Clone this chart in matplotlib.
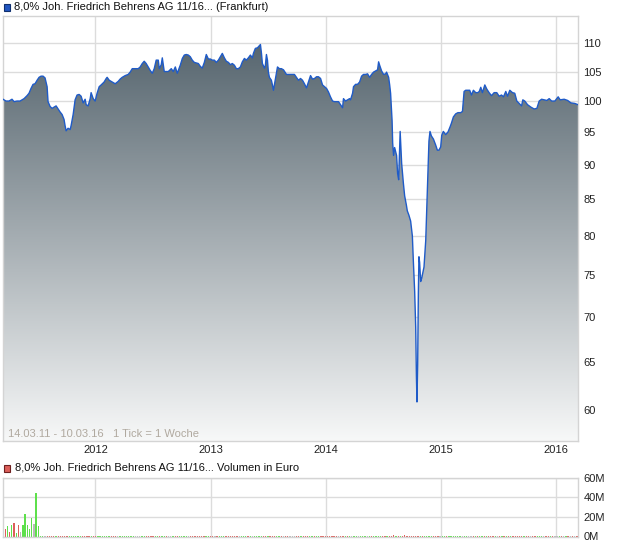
import numpy as np
import matplotlib
matplotlib.use('Agg')
import matplotlib.pyplot as plt
from matplotlib.patches import Rectangle
from matplotlib.colors import LinearSegmentedColormap

plt.rcParams['font.family'] = ['Liberation Sans', 'DejaVu Sans']

TITLE = '8,0% Joh. Friedrich Behrens AG 11/16... (Frankfurt)'
VOL_TITLE = '8,0% Joh. Friedrich Behrens AG 11/16... Volumen in Euro'
RANGE_NOTE = '14.03.11 - 10.03.16   1 Tick = 1 Woche'

# time axis in decimal years (14.03.11 .. 10.03.16)
START, END = 2011.197, 2016.189
YEAR_TICKS = [2012, 2013, 2014, 2015, 2016]
PRICE_TICKS = [60, 65, 70, 75, 80, 85, 90, 95, 100, 105, 110]
PRICE_LIM = (57.0, 115.1)
VOL_TICKS = [0, 20, 40, 60]
VOL_TICK_LABELS = ['0M', '20M', '40M', '60M']

# price (decimal year, price)
price_t = [
    2011.197, 2011.223, 2011.249, 2011.275, 2011.293, 2011.319, 2011.345, 2011.362,
    2011.380, 2011.406, 2011.423, 2011.440, 2011.458, 2011.475, 2011.493, 2011.510,
    2011.527, 2011.545, 2011.562, 2011.580, 2011.588, 2011.606, 2011.623, 2011.640,
    2011.658, 2011.675, 2011.693, 2011.710, 2011.727, 2011.736, 2011.745, 2011.762,
    2011.780, 2011.788, 2011.806, 2011.823, 2011.840, 2011.858, 2011.875, 2011.893,
    2011.910, 2011.919, 2011.936, 2011.954, 2011.962, 2011.980, 2011.997,
    2012.014, 2012.032, 2012.049, 2012.075, 2012.093, 2012.101, 2012.119, 2012.145,
    2012.171, 2012.197, 2012.214, 2012.232, 2012.258, 2012.284, 2012.301, 2012.319,
    2012.345, 2012.371, 2012.388, 2012.406, 2012.423, 2012.440, 2012.458, 2012.475,
    2012.493, 2012.510, 2012.527, 2012.545, 2012.554, 2012.571, 2012.580, 2012.597,
    2012.614, 2012.632, 2012.658, 2012.675, 2012.693, 2012.710, 2012.719, 2012.736,
    2012.754, 2012.771, 2012.788, 2012.806, 2012.823, 2012.840, 2012.858, 2012.875,
    2012.893, 2012.910, 2012.927, 2012.945, 2012.962, 2012.980, 2012.997,
    2013.014, 2013.032, 2013.049, 2013.067, 2013.084, 2013.101, 2013.119, 2013.136,
    2013.154, 2013.171, 2013.188, 2013.206, 2013.223, 2013.240, 2013.258, 2013.275,
    2013.293, 2013.310, 2013.327, 2013.345, 2013.362, 2013.371, 2013.388, 2013.406,
    2013.423, 2013.432, 2013.441, 2013.449, 2013.467, 2013.475, 2013.484, 2013.493,
    2013.501, 2013.510, 2013.527, 2013.536, 2013.545, 2013.554, 2013.571, 2013.580,
    2013.597, 2013.614, 2013.632, 2013.658, 2013.693, 2013.727, 2013.745, 2013.762,
    2013.780, 2013.797, 2013.814, 2013.832, 2013.849, 2013.867, 2013.884, 2013.901,
    2013.919, 2013.936, 2013.954, 2013.971, 2013.988,
    2014.006, 2014.023, 2014.040, 2014.058, 2014.075, 2014.093, 2014.110, 2014.127,
    2014.145, 2014.153, 2014.171, 2014.188, 2014.206, 2014.214, 2014.232, 2014.240,
    2014.258, 2014.275, 2014.293, 2014.310, 2014.327, 2014.345, 2014.362, 2014.380,
    2014.397, 2014.414, 2014.432, 2014.449, 2014.458, 2014.467, 2014.484, 2014.501,
    2014.519, 2014.527, 2014.545, 2014.554, 2014.562, 2014.571, 2014.575, 2014.580,
    2014.588, 2014.597, 2014.614, 2014.623, 2014.632, 2014.645, 2014.658, 2014.673,
    2014.684, 2014.699, 2014.707, 2014.721, 2014.736, 2014.751, 2014.760, 2014.771,
    2014.780, 2014.786, 2014.791, 2014.797, 2014.803, 2014.808, 2014.814, 2014.823,
    2014.832, 2014.843, 2014.852, 2014.867, 2014.881, 2014.890, 2014.895, 2014.904,
    2014.916, 2014.934, 2014.953, 2014.968, 2014.982, 2014.997,
    2015.006, 2015.020, 2015.040, 2015.060, 2015.078, 2015.090, 2015.107, 2015.127,
    2015.147, 2015.171, 2015.186, 2015.200, 2015.214, 2015.232, 2015.249, 2015.264,
    2015.281, 2015.301, 2015.319, 2015.332, 2015.345, 2015.359, 2015.380, 2015.397,
    2015.417, 2015.438, 2015.461, 2015.484, 2015.504, 2015.525, 2015.542, 2015.562,
    2015.577, 2015.597, 2015.620, 2015.640, 2015.658, 2015.678, 2015.699, 2015.710,
    2015.727, 2015.751, 2015.780, 2015.808, 2015.832, 2015.852, 2015.873, 2015.895,
    2015.919, 2015.939, 2015.960, 2015.988,
    2016.017, 2016.034, 2016.069, 2016.099, 2016.127, 2016.162, 2016.189,
]
price_v = [
    100.3, 100.0, 100.0, 100.3, 99.9, 100.0, 100.0, 100.2,
    100.4, 100.9, 101.3, 102.1, 102.8, 102.9, 103.5, 104.0,
    104.2, 104.2, 103.9, 102.4, 99.9, 99.1, 98.8, 99.0,
    99.2, 98.7, 98.2, 97.8, 97.0, 96.0, 95.2, 95.6,
    95.4, 96.0, 97.8, 100.2, 101.0, 101.1, 100.8, 99.7,
    100.3, 99.4, 99.2, 100.4, 101.4, 100.4, 100.0,
    101.3, 102.4, 102.7, 103.2, 103.8, 104.0, 103.5, 103.2,
    102.9, 103.3, 103.7, 104.0, 104.3, 104.5, 104.9, 105.5,
    105.5, 105.5, 105.8, 106.4, 106.8, 106.4, 105.8, 105.2,
    104.7, 105.5, 107.0, 107.0, 105.5, 106.2, 107.4, 105.0,
    105.0, 105.0, 105.5, 105.0, 105.8, 104.7, 105.2, 106.1,
    107.3, 107.9, 108.0, 107.9, 107.6, 107.0, 106.6, 106.5,
    106.4, 105.9, 105.6, 106.6, 108.0, 107.2, 107.2,
    107.0, 107.0, 106.6, 107.0, 107.6, 108.2, 107.4, 106.8,
    106.6, 106.2, 106.4, 106.1, 105.5, 105.5, 105.8, 106.7,
    107.3, 107.0, 107.4, 107.9, 107.4, 108.2, 109.1, 109.2,
    109.6, 109.8, 108.2, 106.4, 105.6, 106.1, 108.0, 107.0,
    104.9, 104.0, 103.5, 102.7, 101.8, 102.8, 104.7, 105.8,
    105.5, 105.5, 105.3, 104.5, 104.5, 104.5, 104.0, 103.5,
    103.8, 103.5, 102.9, 102.2, 103.2, 104.3, 103.7, 103.8,
    104.1, 104.1, 103.8, 102.7, 102.4,
    102.1, 101.5, 100.7, 100.0, 99.9, 99.9, 99.9, 99.4,
    98.9, 100.4, 100.0, 100.2, 100.4, 100.2, 101.3, 102.4,
    102.8, 102.8, 103.2, 104.2, 104.5, 104.5, 104.6, 104.0,
    104.5, 104.9, 105.1, 105.3, 106.7, 106.1, 105.1, 104.5,
    104.6, 104.9, 104.0, 102.7, 101.3, 98.0, 96.8, 93.3,
    91.4, 92.6, 91.4, 88.7, 87.8, 95.1, 90.2, 87.3,
    85.5, 84.2, 83.4, 82.8, 82.0, 80.0, 76.6, 73.0,
    68.8, 63.5, 60.8, 64.7, 72.8, 77.3, 76.6, 74.2,
    74.6, 75.4, 76.0, 79.4, 86.0, 90.7, 93.6, 95.1,
    94.4, 93.9, 93.0, 92.2, 92.2, 92.7,
    94.5, 95.1, 94.6, 95.0, 95.8, 96.4, 97.4, 97.9,
    98.1, 98.1, 98.3, 101.6, 101.8, 101.8, 101.8, 101.0,
    101.8, 101.4, 101.4, 101.6, 102.3, 101.4, 102.7, 102.0,
    101.4, 100.9, 101.4, 101.4, 100.8, 101.0, 100.7, 101.6,
    100.8, 101.8, 101.4, 101.3, 100.0, 99.6, 99.2, 100.2,
    100.0, 99.4, 99.0, 98.7, 98.8, 100.0, 100.3, 100.2,
    100.1, 100.4, 100.0, 100.0,
    100.7, 100.2, 100.3, 100.1, 99.7, 99.6, 99.4,
]

# weekly volume in million euro
N_WEEKS = 261
vol_early = [35.0, 7.8, 10.9, 4.8, 11.9, 13.6, 4.0, 11.9, 5.0, 11.9, 23.4, 11.9, 7.8, 19.3, 13.2, 44.7, 11.2]
vol_early_dir = ['n', 'd', 'u', 'd', 'u', 'd', 'u', 'd', 'n', 'u', 'u', 'u', 'u', 'u', 'n', 'u', 'u']
vol_floor = 0.8
vol_spike_weeks = [177, 182]
vol_spike_vals = [1.8, 1.1]

DIR_COLORS = {'u': '#5ee04c', 'd': '#dc5f5a', 'n': '#b9b9b9'}
GRID = '#dcdcdc'
FS = 8

price_t = np.array(price_t)
price_v = np.array(price_v)

fig = plt.figure(figsize=(6.2, 5.46), dpi=100)
ax = fig.add_axes([3 / 620, 1 - 441 / 546, 575 / 620, 425 / 546])
axv = fig.add_axes([3 / 620, 1 - 536.5 / 546, 575 / 620, 58.8 / 546])

# --- price panel
ax.set_yscale('log')
ax.set_xlim(START, END)
ax.set_ylim(*PRICE_LIM)
ax.set_axisbelow(True)
ax.grid(True, color=GRID, lw=1)

fill = ax.fill_between(price_t, price_v, 1, color='none', lw=0)
cmap = LinearSegmentedColormap.from_list('g', ['#f7f8f8', '#4c5c66'])
grad = np.linspace(0, 1, 256).reshape(-1, 1)
img = ax.imshow(grad, cmap=cmap, extent=[0, 1, 0, 1], transform=ax.transAxes,
                aspect='auto', origin='lower', zorder=1, interpolation='bilinear')
img.set_clip_path(fill.get_paths()[0], transform=ax.transData)
ax.plot(price_t, price_v, color='#1f5bc8', lw=1.0, zorder=3)
ax.set_xlim(START, END)
ax.set_ylim(*PRICE_LIM)

ax.set_xticks(YEAR_TICKS)
ax.set_xticklabels([str(y) for y in YEAR_TICKS])
ax.set_yticks(PRICE_TICKS)
ax.set_yticklabels([str(v) for v in PRICE_TICKS])
ax.yaxis.set_minor_locator(matplotlib.ticker.NullLocator())
ax.yaxis.tick_right()
ax.tick_params(axis='x', length=0, pad=3, labelsize=FS, colors='#222222')
ax.tick_params(axis='y', length=0, pad=4, labelsize=FS, colors='#222222')
for s in ax.spines.values():
    s.set_color('#d4d4d4')
    s.set_linewidth(1)
ax.text(5 / 575, 7 / 425, RANGE_NOTE, transform=ax.transAxes, fontsize=FS,
        color='#b0a99f', va='center', ha='left')

# --- volume panel
vol = np.full(N_WEEKS, vol_floor)
vol[:len(vol_early)] = vol_early
vol[vol_spike_weeks] = vol_spike_vals
week_t = START + np.arange(N_WEEKS) * 7 / 365.25

# direction of later weeks from the price series
idx = np.clip(np.searchsorted(price_t, week_t, side='right') - 1, 0, len(price_v) - 1)
wk_price = price_v[idx]
colors = []
for i in range(N_WEEKS):
    if i < len(vol_early_dir):
        colors.append(DIR_COLORS[vol_early_dir[i]])
    else:
        diff = wk_price[i] - wk_price[i - 1]
        colors.append(DIR_COLORS['u' if diff > 0 else ('d' if diff < 0 else 'n')])

axv.set_axisbelow(True)
axv.grid(True, color=GRID, lw=1)
axv.bar(week_t, vol, width=0.011, color=colors, lw=0, align='center', zorder=2)
axv.set_xlim(START, END)
axv.set_ylim(0, 60)
axv.set_xticks(YEAR_TICKS)
axv.set_xticklabels([])
axv.set_yticks(VOL_TICKS)
axv.set_yticklabels(VOL_TICK_LABELS)
axv.yaxis.tick_right()
axv.tick_params(axis='x', length=0)
axv.tick_params(axis='y', length=0, pad=4, labelsize=FS, colors='#222222')
for s in axv.spines.values():
    s.set_color('#d4d4d4')
    s.set_linewidth(1)

# --- headers
fig.patches.append(Rectangle((3.5 / 620, 1 - 10.5 / 546), 7 / 620, 7 / 546, transform=fig.transFigure,
                             facecolor='#2156c0', edgecolor='#10306e', lw=0.8))
fig.text(14 / 620, 1 - 6.5 / 546, TITLE, fontsize=FS, color='#111111', va='center', ha='left')
fig.patches.append(Rectangle((3.5 / 620, 1 - 471.5 / 546), 7 / 620, 7 / 546, transform=fig.transFigure,
                             facecolor='#dc5f5a', edgecolor='#6e2020', lw=0.8))
fig.text(15 / 620, 1 - 468 / 546, VOL_TITLE, fontsize=FS, color='#111111', va='center', ha='left')

fig.savefig('out.png', dpi=100)
